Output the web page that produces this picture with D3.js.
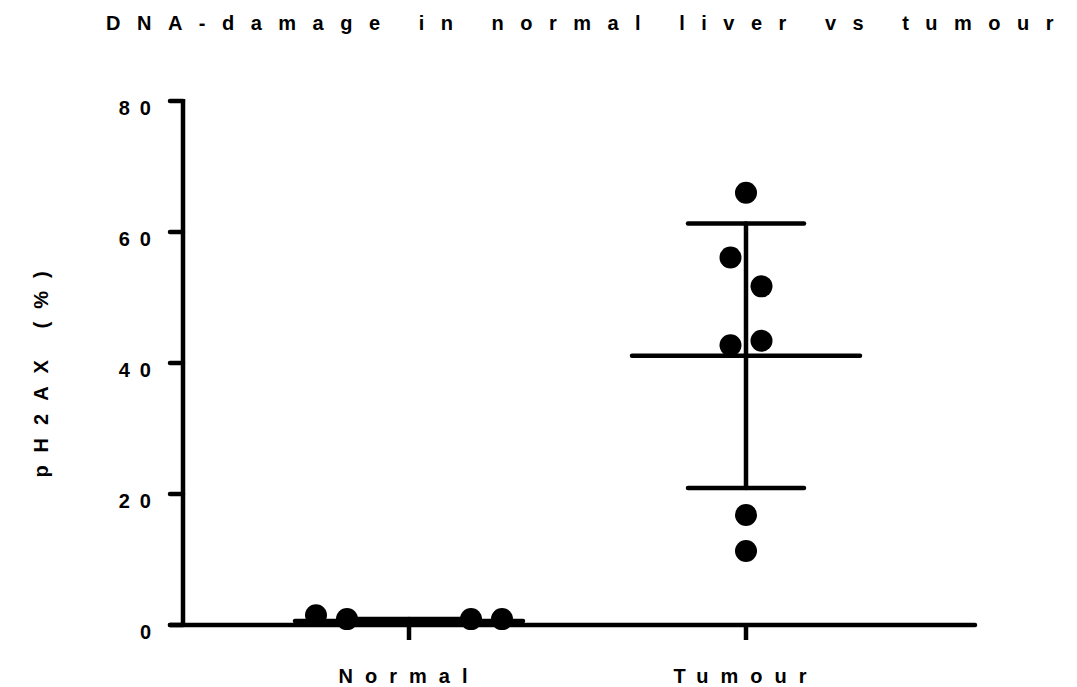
<!DOCTYPE html>
<html>
<head>
<meta charset="utf-8">
<script src="https://cdn.jsdelivr.net/npm/d3@7"></script>
<style>
  body { margin: 0; background: #fff; }
  text { font-family: "Liberation Sans", Arial, sans-serif; font-weight: bold; fill: #000; }
</style>
</head>
<body>
<div id="chart"></div>
<script>
// groups on the x axis
const groups = ["Normal", "Tumour"];

// individual values per group, with their side-by-side slot (GraphPad style scatter)
const normalValues = [1.5, 0.9, 0.9, 0.9];
const normalSlots  = [-3, -2, 2, 3];
const tumourValues = [66.0, 56.1, 51.7, 42.7, 43.4, 16.8, 11.3];
const tumourSlots  = [0, -0.5, 0.5, -0.5, 0.5, 0, 0];

// mean and SD
const means = [0.6, 41.1];
const sds   = [0.3, 20.2];

const yTicks = [0, 20, 40, 60, 80];

const title = "DNA-damage in normal liver vs tumour";
const yTitle = "pH2AX (%)";

const W = 1077, H = 687;
const slotStep = 31;      // px between scatter slots
const dotR = 11;
const meanHalf = 114;     // half width of the mean line
const capHalf = 58;       // half width of the SD caps
const lw = 4.5;

const svg = d3.select("#chart")
  .append("svg")
  .attr("width", W)
  .attr("height", H);

const x = d3.scalePoint()
  .domain(groups)
  .range([409, 746]);

const y = d3.scaleLinear()
  .domain([0, 80])
  .range([625, 101]);

// TITLE
svg.append("text")
  .attr("x", 106)
  .attr("y", 30)
  .style("font-size", "20px")
  .style("letter-spacing", "16.5px")
  .text(title);

// Y AXIS
const yAxis = svg.append("g");
yAxis.append("line")
  .attr("x1", 183).attr("x2", 183)
  .attr("y1", y(80) - 2).attr("y2", y(0) + 2)
  .attr("stroke", "#000").attr("stroke-width", lw);
yAxis.selectAll(".ytick")
  .data(yTicks)
  .enter()
  .append("line")
  .attr("x1", 170).attr("x2", 183)
  .attr("y1", d => y(d)).attr("y2", d => y(d))
  .attr("stroke", "#000").attr("stroke-width", lw)
  .attr("stroke-linecap", "round");
yAxis.selectAll(".ylab")
  .data(yTicks)
  .enter()
  .append("text")
  .attr("x", 161)
  .attr("y", d => y(d) + 14)
  .attr("text-anchor", "end")
  .style("font-size", "20px")
  .style("letter-spacing", "10px")
  .text(d => d);

// Y AXIS LABEL
svg.append("text")
  .attr("transform", `translate(48, ${368}) rotate(-90)`)
  .attr("text-anchor", "middle")
  .style("font-size", "20px")
  .style("letter-spacing", "13px")
  .text(yTitle);

// X AXIS
const xAxis = svg.append("g");
xAxis.append("line")
  .attr("x1", 170).attr("x2", 975)
  .attr("y1", y(0)).attr("y2", y(0))
  .attr("stroke", "#000").attr("stroke-width", lw)
  .attr("stroke-linecap", "round");
xAxis.selectAll(".xtick")
  .data(groups)
  .enter()
  .append("line")
  .attr("x1", d => x(d)).attr("x2", d => x(d))
  .attr("y1", y(0)).attr("y2", y(0) + 15)
  .attr("stroke", "#000").attr("stroke-width", lw);
xAxis.selectAll(".xlab")
  .data(groups)
  .enter()
  .append("text")
  .attr("x", d => x(d))
  .attr("y", 683)
  .attr("text-anchor", "middle")
  .style("font-size", "20px")
  .style("letter-spacing", "12px")
  .text(d => d);

// POINTS
const points = [];
normalValues.forEach((v, i) => points.push({ g: "Normal", v: v, s: normalSlots[i] }));
tumourValues.forEach((v, i) => points.push({ g: "Tumour", v: v, s: tumourSlots[i] }));

svg.selectAll(".dot")
  .data(points)
  .enter()
  .append("circle")
  .attr("class", "dot")
  .attr("cx", d => x(d.g) + d.s * slotStep)
  .attr("cy", d => y(d.v))
  .attr("r", dotR)
  .attr("fill", "#000");

// MEAN AND SD
const stats = groups.map((g, i) => ({ g: g, m: means[i], sd: sds[i] }));
const err = svg.selectAll(".err")
  .data(stats)
  .enter()
  .append("g")
  .attr("stroke", "#000")
  .attr("stroke-width", lw)
  .attr("stroke-linecap", "round");

err.append("line")
  .attr("x1", d => x(d.g)).attr("x2", d => x(d.g))
  .attr("y1", d => y(d.m + d.sd)).attr("y2", d => y(d.m - d.sd));
err.append("line")
  .attr("x1", d => x(d.g) - meanHalf).attr("x2", d => x(d.g) + meanHalf)
  .attr("y1", d => y(d.m)).attr("y2", d => y(d.m));
err.append("line")
  .attr("x1", d => x(d.g) - capHalf).attr("x2", d => x(d.g) + capHalf)
  .attr("y1", d => y(d.m + d.sd)).attr("y2", d => y(d.m + d.sd));
err.append("line")
  .attr("x1", d => x(d.g) - capHalf).attr("x2", d => x(d.g) + capHalf)
  .attr("y1", d => y(d.m - d.sd)).attr("y2", d => y(d.m - d.sd));
</script>
</body>
</html>
